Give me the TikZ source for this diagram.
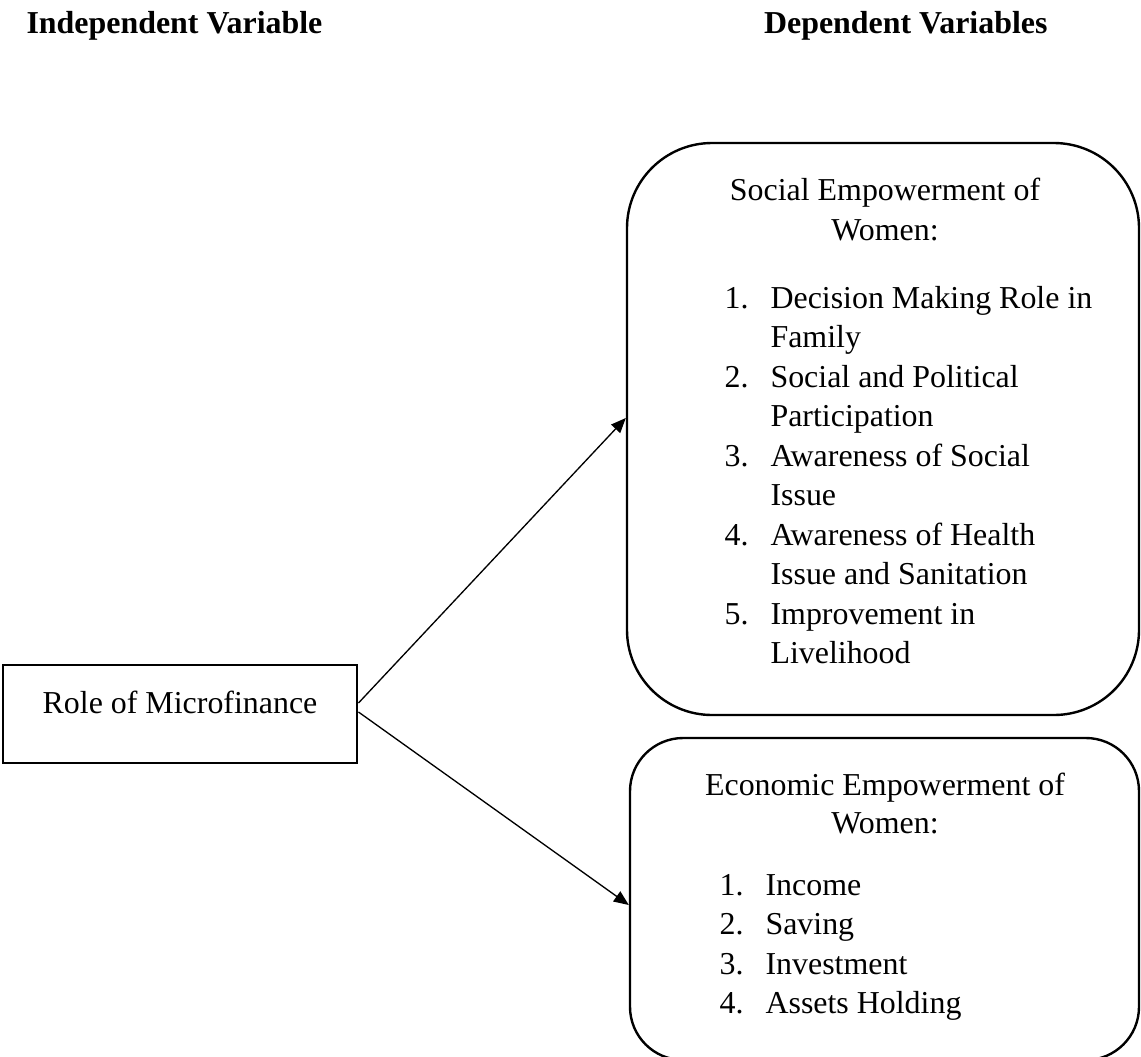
\documentclass[tikz,border=0pt]{standalone}
\usepackage{fontspec}
\setmainfont{Liberation Serif}
\usetikzlibrary{calc,arrows.meta}
\def\px{0.376pt}
\tikzset{every node/.style={inner sep=0pt, font=\fontsize{12}{14}\selectfont},
    heading/.style={font=\fontsize{12}{14}\selectfont\bfseries},
    label text/.style={anchor=base},
    item num/.style={anchor=base west},
    item text/.style={anchor=base west},
    plain box/.style={draw, line width=1.1pt},
    round box/.style={draw, line width=0.9pt},
    link/.style={line width=0.5pt, -{Triangle[length=5.6pt,width=4.6pt]}}
    }
% numbered line of a list: name, number, x, baseline, text
\def\Item#1#2#3#4#5{%
 \node[item num] (#1n) at (#3,#4) {#2.};
 \node[item text] (#1) at (#3+46,#4) {#5};
}
% second line of a list item
\def\More#1#2#3{%
 \node[item text] (#1) at ($(#2.base west)+(0,39.4)$) {#3};
}
\begin{document}
\begin{tikzpicture}[x=\px, y=-\px]
\useasboundingbox (0,0) rectangle (1141,1056);
\clip (0,0) rectangle (1141,1056);
\node[heading, anchor=base west] (indep) at (26,33) {Independent Variable};
\node[heading, anchor=base east] (dep) at (1048,33) {Dependent Variables};

\node[plain box, minimum width=354*\px, minimum height=98*\px] (role) at (180,714) {};
\node[label text] (roletext) at (180,713) {Role of Microfinance};

\node[round box, rounded corners=32pt, minimum width=512*\px, minimum height=572*\px] (social) at (883,429) {};
\node[label text] (socialtitle) at (885,200) {Social Empowerment of};
\node[label text] (socialwomen) at (885,240) {Women:};
\Item{s1}{1}{724}{308}{Decision Making Role in}
\More{s1b}{s1}{Family}
\Item{s2}{2}{724}{387}{Social and Political}
\More{s2b}{s2}{Participation}
\Item{s3}{3}{724}{466}{Awareness of Social}
\More{s3b}{s3}{Issue}
\Item{s4}{4}{724}{545}{Awareness of Health}
\More{s4b}{s4}{Issue and Sanitation}
\Item{s5}{5}{724}{624}{Improvement in}
\More{s5b}{s5}{Livelihood}

\node[round box, rounded corners=20pt, minimum width=509*\px, minimum height=322*\px] (econ) at (884.5,899) {};
\node[label text] (econtitle) at (885,795) {Economic Empowerment of};
\node[label text] (econwomen) at (885,833) {Women:};
\Item{e1}{1}{719}{895}{Income}
\Item{e2}{2}{719}{934}{Saving}
\Item{e3}{3}{719}{974}{Investment}
\Item{e4}{4}{719}{1013}{Assets Holding}

\draw[link] ($(role.east)+(0,-11)$) -- ($(social.west)+(0,-11)$);
\draw[link] ($(role.east)+(0,-2)$) -- ($(econ.west)+(0,6)$);
\end{tikzpicture}
\end{document}
